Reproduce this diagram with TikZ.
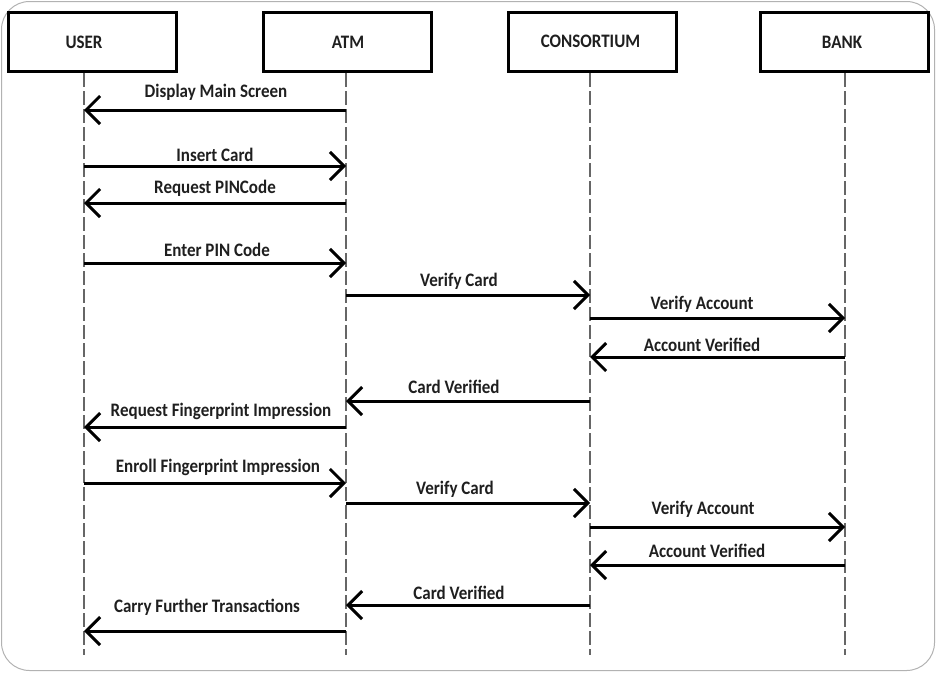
\documentclass[tikz,border=0pt]{standalone}
\usepackage{fontspec}
\usepackage{graphicx}
\setmainfont{Carlito}
\usetikzlibrary{arrows.meta}
\newcommand{\tallt}[1]{\scalebox{1}[1.12]{#1}}
\begin{document}
\begin{tikzpicture}[x=1pt,y=-1pt,
  actorbox/.style={draw=black,line width=3pt,minimum width=168pt,minimum height=59pt,inner sep=0pt},
  actorlabel/.style={font=\fontsize{17}{20}\selectfont\bfseries,text=black!88,inner sep=0pt},
  lifeline/.style={draw=black!60,line width=1.2pt,dash pattern=on 14pt off 4pt},
  msg/.style={line width=3pt,black,-{Straight Barb[length=14pt,width=28pt]}},
  msglabel/.style={font=\fontsize{17}{20}\selectfont\bfseries,text=black!88,inner sep=0pt}]
\useasboundingbox (0,0) rectangle (936,672);
\draw[black!30,line width=1pt,rounded corners=28pt] (1.5,1.5) rectangle (934.5,670.5);
% actor boxes
\node[actorbox] (userbox) at (92,41.5) {};
\node[actorbox] (atmbox) at (347,42) {};
\node[actorbox] (consbox) at (592.5,42) {};
\node[actorbox] (bankbox) at (844,42) {};
\node[actorlabel] (userlbl) at (84,42) {\tallt{USER}};
\node[actorlabel] (atmlbl) at (348,42) {\tallt{ATM}};
\node[actorlabel] (conslbl) at (590.5,41) {\tallt{CONSORTIUM}};
\node[actorlabel] (banklbl) at (842,42) {\tallt{BANK}};
% lifelines
\coordinate (uT) at (84,73); \coordinate (uB) at (84,655);
\coordinate (aT) at (346,73); \coordinate (aB) at (346,655);
\coordinate (cT) at (590,73); \coordinate (cB) at (590,655);
\coordinate (bT) at (845,73); \coordinate (bB) at (845,655);
\draw[lifeline] (uT) -- (uB);
\draw[lifeline] (aT) -- (aB);
\draw[lifeline] (cT) -- (cB);
\draw[lifeline] (bT) -- (bB);
% messages
\draw[msg] (aT |- 0,110) -- (uT |- 0,110);
\node[msglabel] (m1) at (216,92) {\tallt{Display Main Screen}};
\draw[msg] (uT |- 0,166) -- (aT |- 0,166);
\node[msglabel] (m2) at (215,155) {\tallt{Insert Card}};
\draw[msg] (aT |- 0,203) -- (uT |- 0,203);
\node[msglabel] (m3) at (215,188) {\tallt{Request PINCode}};
\draw[msg] (uT |- 0,263) -- (aT |- 0,263);
\node[msglabel] (m4) at (217,250) {\tallt{Enter PIN Code}};
\draw[msg] (aT |- 0,295) -- (cT |- 0,295);
\node[msglabel] (m5) at (459,281) {\tallt{Verify Card}};
\draw[msg] (cT |- 0,318) -- (bT |- 0,318);
\node[msglabel] (m6) at (702,304) {\tallt{Verify Account}};
\draw[msg] (bT |- 0,357) -- (cT |- 0,357);
\node[msglabel] (m7) at (702,345) {\tallt{Account Verified}};
\draw[msg] (cT |- 0,401) -- (aT |- 0,401);
\node[msglabel] (m8) at (454,387) {\tallt{Card Verified}};
\draw[msg] (aT |- 0,427) -- (uT |- 0,427);
\node[msglabel] (m9) at (221,411) {\tallt{Request Fingerprint Impression}};
\draw[msg] (uT |- 0,483) -- (aT |- 0,483);
\node[msglabel] (m10) at (218,467) {\tallt{Enroll Fingerprint Impression}};
\draw[msg] (aT |- 0,503) -- (cT |- 0,503);
\node[msglabel] (m11) at (455,489) {\tallt{Verify Card}};
\draw[msg] (cT |- 0,527) -- (bT |- 0,527);
\node[msglabel] (m12) at (703,509) {\tallt{Verify Account}};
\draw[msg] (bT |- 0,565) -- (cT |- 0,565);
\node[msglabel] (m13) at (707,551) {\tallt{Account Verified}};
\draw[msg] (cT |- 0,605) -- (aT |- 0,605);
\node[msglabel] (m14) at (459,593) {\tallt{Card Verified}};
\draw[msg] (aT |- 0,631) -- (uT |- 0,631);
\node[msglabel] (m15) at (207,607) {\tallt{Carry Further Transactions}};
\end{tikzpicture}
\end{document}
